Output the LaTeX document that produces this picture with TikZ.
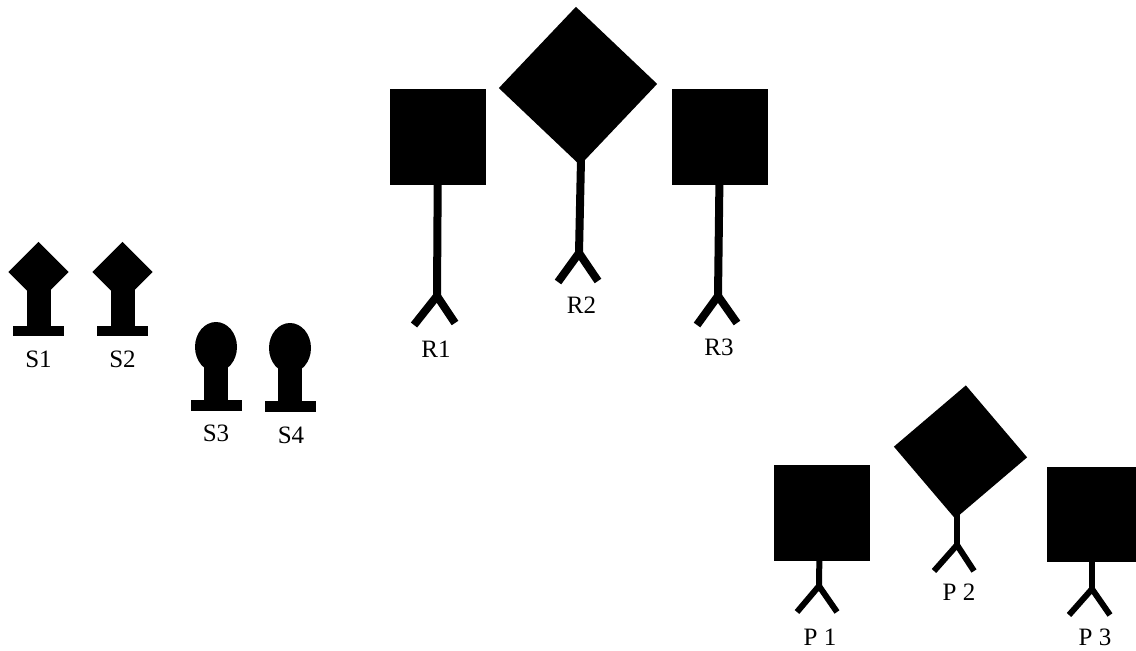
\documentclass[tikz,border=0pt]{standalone}
\usepackage{fontspec}
\setmainfont{Liberation Serif}
\usepackage{tikz}
\usetikzlibrary{shapes.geometric}
\tikzset{
	body/.style={rectangle,fill=black,inner sep=0pt,minimum size=96pt},
	head/.style={ellipse,fill=black,inner sep=0pt,minimum width=42pt,minimum height=50pt},
	foot/.style={rectangle,fill=black,inner sep=0pt,minimum width=51pt,minimum height=10.5pt},
	leg/.style={line width=#1,line join=miter,miter limit=10},
	tag/.style={font=\fontsize{25}{28}\selectfont,inner sep=0pt}
}
\begin{document}
\begin{tikzpicture}[x=1pt,y=-1pt]
	\useasboundingbox (0,0) rectangle (1136,651);

	% S
	\foreach \i/\x in {1/38.5,2/122.5} {
		\node[body,rotate=45,minimum size=42.5pt] (S\i) at (\x,272) {};
		\node[foot] (F\i) at (\x,331) {};
		\draw[line width=24pt] (S\i.center) -- (F\i.center);
		\node[tag] (L\i) at (\x,359.5) {S\i};
	}
	\node[head] (S3) at (216,347) {};
	\node[head] (S4) at (290,348) {};
	\node[foot] (F3) at (216,405.5) {};
	\node[foot] (F4) at (290,406.5) {};
	\draw[line width=24pt] (S3.center) -- (F3.center);
	\draw[line width=24pt] (S4.center) -- (F4.center);
	\node[tag] (L3) at (216,433) {S3};
	\node[tag] (L4) at (291,435) {S4};

	% R
	\node[body] (R1) at (438,136.5) {};
	\node[body,rotate=46.5,minimum size=112pt] (R2) at (578,86) {};
	\node[body] (R3) at (720,136.5) {};
	\coordinate (T2) at (581.2,150);
	\foreach \i/\jx/\jy/\lx/\ly/\rx/\ry in {1/437/298/414/325/455/323,2/579/255/558/282/598/281,3/718/298/697/325/737/323} {
		\coordinate (J\i) at (\jx,\jy-2);
		\coordinate (A\i) at (\lx,\ly);
		\coordinate (B\i) at (\rx,\ry);
		\draw[leg=8pt] (A\i) -- (J\i) -- (B\i);
	}
	\draw[line width=8pt] (R1.center) -- (J1);
	\draw[line width=8pt] (T2) -- (J2);
	\draw[line width=8pt] (R3.center) -- (J3);
	\node[tag] (M1) at (436,349) {R1};
	\node[tag] (M2) at (581.5,305) {R2};
	\node[tag] (M3) at (719,347) {R3};

	% P
	\node[body] (P1) at (822,512.5) {};
	\node[body,rotate=40.4,minimum size=94.5pt] (P2) at (960.5,452) {};
	\node[body,minimum width=89pt,minimum height=95pt] (P3) at (1091.5,514.5) {};
	\coordinate (U1) at (819.5,550);
	\coordinate (U2) at (957,505);
	\coordinate (U3) at (1092,550);
	\foreach \i/\jx/\jy/\lx/\ly/\rx/\ry in {1/819/586/797/612/837/612,2/957/545/934/571/974/571,3/1092/589/1069/615/1110/615} {
		\coordinate (V\i) at (\jx,\jy);
		\coordinate (C\i) at (\lx,\ly);
		\coordinate (D\i) at (\rx,\ry);
		\draw[leg=6pt] (C\i) -- (V\i) -- (D\i);
		\draw[line width=6pt] (U\i) -- (V\i);
	}
	\node[tag] (N1) at (820,637) {P 1};
	\node[tag] (N2) at (959,592) {P 2};
	\node[tag] (N3) at (1095,637) {P 3};
\end{tikzpicture}
\end{document}
